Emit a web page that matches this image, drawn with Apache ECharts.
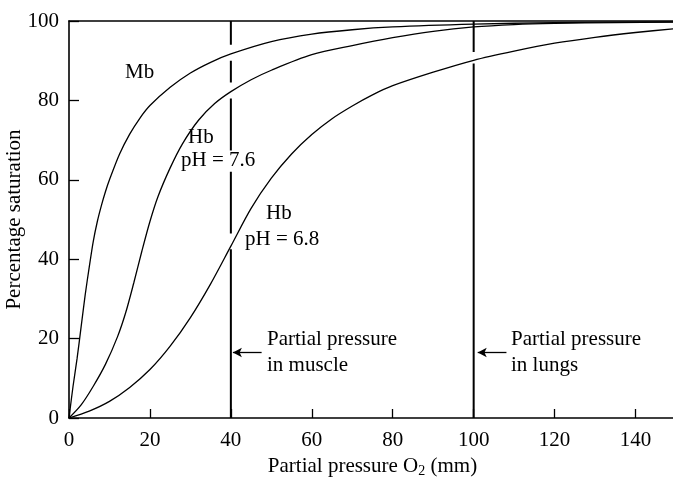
<!DOCTYPE html>
<html>
<head>
<meta charset="utf-8">
<script src="https://cdn.jsdelivr.net/npm/echarts@6/dist/echarts.min.js"></script>
<style>html,body{margin:0;padding:0;background:#fff}#c{width:673px;height:480px}</style>
</head>
<body>
<div id="c"></div>
<script>
// ---- data ----
var xTicks = [0, 20, 40, 60, 80, 100, 120, 140];
var yTicks = [0, 20, 40, 60, 80, 100];

var mbX = [0, 1, 2, 3, 4, 5, 6, 7, 8, 9, 10, 12.5, 15, 17.5, 20, 25, 30, 35, 40, 50, 60, 70, 80, 100, 120, 150];
var mbY = [0, 8, 15, 23, 31, 38, 44.5, 49.5, 53.5, 57, 60, 66.5, 71.5, 75.5, 78.7, 83.3, 86.9, 89.6, 91.7, 94.8, 96.7, 97.8, 98.5, 99.2, 99.6, 99.8];

var hb76X = [0, 3, 6, 9, 12, 14, 16, 18, 20, 22, 25, 28, 32, 36, 40, 45, 50, 60, 70, 80, 90, 100, 110, 120, 135, 150];
var hb76Y = [0, 3.3, 8, 13.5, 20.5, 26.5, 34, 42, 49.5, 55.8, 63, 69, 75, 79.2, 82.2, 85.2, 87.6, 91.5, 93.8, 95.8, 97.4, 98.5, 99.1, 99.4, 99.6, 99.7];

var hb68X = [0, 5, 10, 15, 20, 25, 30, 35, 40, 45, 50, 55, 60, 65, 70, 75, 80, 90, 100, 110, 120, 130, 140, 150];
var hb68Y = [0, 1.75, 4.2, 7.7, 12.2, 18.1, 25.3, 33.8, 43.3, 52.8, 60.4, 66.5, 71.4, 75.4, 78.6, 81.4, 83.7, 87.1, 90.1, 92.4, 94.4, 95.9, 97.1, 98.1];

// reference lines (x value) and their visible segments in y
var muscleX = 40;
var muscleSegs = [[0, 42.5], [46.5, 62], [67.4, 80.5], [84.5, 90], [94, 100]];
var lungsX = 100;
var lungsSegs = [[0, 89.3], [92.2, 100]];

// arrows: [fromX, toX, y]
var muscleArrow = [47.6, 40.5, 16.5];
var lungsArrow = [108.1, 101.0, 16.5];

function pairs(xs, ys) { return xs.map(function (x, i) { return [x, ys[i]]; }); }
function segLine(x, segs) {
  var out = [];
  segs.forEach(function (s, i) {
    if (i > 0) out.push([x, '-']);
    out.push([x, s[0]]); out.push([x, s[1]]);
  });
  return out;
}

var FONT = 'Liberation Serif';
var txt = {fontFamily: FONT, fontSize: 21, color: '#000'};

var chart = echarts.init(document.getElementById('c'), null, {renderer: 'canvas'});

function curve(name, data) {
  return {
    name: name, type: 'line', data: data, smooth: 0.3,
    symbol: 'none', lineStyle: {color: '#000', width: 1.3}, z: 3, animation: false
  };
}
function vline(name, data, arrow) {
  return {
    name: name, type: 'line', data: data, symbol: 'none', connectNulls: false,
    lineStyle: {color: '#000', width: 2}, z: 2, animation: false,
    markLine: {
      silent: true, animation: false, symbol: ['none', 'arrow'], symbolSize: [7, 9],
      label: {show: false},
      lineStyle: {color: '#000', width: 1.3, type: 'solid'},
      data: [[{coord: [arrow[0], arrow[2]]}, {coord: [arrow[1], arrow[2]]}]]
    }
  };
}

chart.setOption({
  animation: false,
  backgroundColor: '#fff',
  grid: {left: 69, right: -3, top: 21, bottom: 62, containLabel: false, outerBoundsMode: 'none'},
  xAxis: [{
    type: 'value', min: 0, max: 150, interval: 20, position: 'bottom',
    name: 'Partial pressure O{s|2} (mm)', nameLocation: 'middle', nameGap: 36,
    nameTextStyle: {fontFamily: FONT, fontSize: 21, color: '#000',
      rich: {s: {fontFamily: FONT, fontSize: 14, color: '#000', padding: [10, 0, 0, 0]}}},
    axisLine: {show: true, lineStyle: {color: '#000', width: 1.6}},
    axisTick: {show: true, inside: true, length: 9, lineStyle: {color: '#000', width: 1.3}},
    axisLabel: {margin: 12, fontFamily: FONT, fontSize: 21, color: '#000',
      formatter: function (v) { return xTicks.indexOf(v) >= 0 ? String(v) : ''; }},
    splitLine: {show: false}
  }, {
    type: 'value', min: 0, max: 150, position: 'top',
    axisLine: {show: true, onZero: false, lineStyle: {color: '#000', width: 1.6}},
    axisTick: {show: false}, axisLabel: {show: false}, splitLine: {show: false}
  }],
  yAxis: {
    type: 'value', min: 0, max: 100, interval: 20,
    name: 'Percentage saturation', nameLocation: 'middle', nameGap: 44, nameMoveOverlap: false,
    nameTextStyle: {fontFamily: FONT, fontSize: 21, color: '#000'},
    axisLine: {show: true, onZero: false, lineStyle: {color: '#000', width: 1.6}},
    axisTick: {show: true, inside: true, length: 10, lineStyle: {color: '#000', width: 1.3}},
    axisLabel: {margin: 10, fontFamily: FONT, fontSize: 21, color: '#000',
      formatter: function (v) { return yTicks.indexOf(v) >= 0 ? String(v) : ''; }},
    splitLine: {show: false}
  },
  series: [
    curve('Mb', pairs(mbX, mbY)),
    curve('Hb pH 7.6', pairs(hb76X, hb76Y)),
    curve('Hb pH 6.8', pairs(hb68X, hb68Y)),
    vline('muscle', segLine(muscleX, muscleSegs), muscleArrow),
    vline('lungs', segLine(lungsX, lungsSegs), lungsArrow)
  ],
  graphic: [
    {type: 'text', left: 125, top: 62, style: Object.assign({text: 'Mb'}, txt)},
    {type: 'text', left: 188, top: 127, style: Object.assign({text: 'Hb'}, txt)},
    {type: 'text', left: 181, top: 150, style: Object.assign({text: 'pH = 7.6'}, txt)},
    {type: 'text', left: 266, top: 203, style: Object.assign({text: 'Hb'}, txt)},
    {type: 'text', left: 245, top: 229, style: Object.assign({text: 'pH = 6.8'}, txt)},
    {type: 'text', left: 267, top: 326, style: Object.assign({text: 'Partial pressure\nin muscle', lineHeight: 26}, txt)},
    {type: 'text', left: 511, top: 326, style: Object.assign({text: 'Partial pressure\nin lungs', lineHeight: 26}, txt)}
  ]
});
</script>
</body>
</html>
